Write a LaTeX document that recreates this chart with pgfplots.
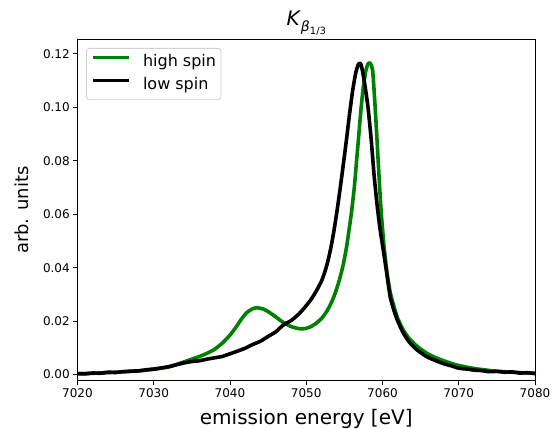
\documentclass[border=0pt]{standalone}
\usepackage{pgfplots}
\pgfplotsset{compat=1.18}
\usepackage{fontspec}
\setmainfont{DejaVu Sans}
\definecolor{mplgreen}{HTML}{008000}

\pgfplotstableread{
E v
7020 0.0003
7022 0.0005
7025 0.0009
7028 0.0014
7030 0.0020
7032 0.0029
7033.8 0.0046
7035 0.0058
7036 0.0068
7037 0.0080
7038 0.0095
7039 0.0118
7040 0.0148
7040.8 0.0178
7041.5 0.0208
7042.2 0.0232
7043 0.0247
7043.6 0.0250
7044.3 0.0246
7045 0.0236
7046 0.0216
7047 0.0195
7048 0.0180
7049 0.0172
7049.8 0.0172
7050.5 0.0178
7051.2 0.0190
7052 0.0210
7052.7 0.0237
7053.3 0.0270
7053.8 0.0305
7054.3 0.0350
7054.8 0.0405
7055.3 0.0480
7055.9 0.0600
7056.3 0.0700
7056.6 0.0800
7056.9 0.0900
7057.2 0.1000
7057.5 0.1080
7057.8 0.1135
7058.1 0.1163
7058.4 0.1165
7058.7 0.1140
7058.95 0.1040
7059.2 0.0920
7059.45 0.0790
7059.8 0.0620
7060.2 0.0480
7060.6 0.0380
7061 0.0310
7061.5 0.0255
7062 0.0210
7062.7 0.0168
7063.5 0.0135
7064.5 0.0107
7065.8 0.0080
7067 0.0063
7068.5 0.0047
7070 0.0034
7072 0.0023
7074.5 0.0014
7077 0.0009
7080 0.0005
}\highspin

\pgfplotstableread{
E v
7020 0.0004
7021 0.0003
7022 0.0006
7023 0.0005
7024 0.0009
7025 0.0008
7026 0.0011
7027 0.0013
7028 0.0014
7029 0.0018
7030 0.0021
7031 0.0025
7032 0.0030
7033 0.0037
7034 0.0044
7035 0.0049
7036 0.0052
7037 0.0058
7038 0.0063
7039 0.0068
7040 0.0078
7041 0.0088
7042 0.0099
7043 0.0113
7044 0.0125
7045 0.0143
7046 0.0160
7047 0.0186
7048 0.0202
7049 0.0226
7050 0.0258
7050.7 0.0284
7051.3 0.0312
7052 0.0350
7052.5 0.0390
7052.9 0.0432
7053.3 0.0485
7053.7 0.0550
7054.1 0.0625
7054.5 0.0708
7054.9 0.0795
7055.3 0.0885
7055.7 0.0980
7056.1 0.1065
7056.5 0.1130
7056.85 0.1162
7057.15 0.1163
7057.45 0.1125
7057.8 0.1062
7058.1 0.1000
7058.5 0.0885
7058.9 0.0745
7059.3 0.0632
7059.7 0.0540
7060.1 0.0466
7060.5 0.0390
7061 0.0292
7061.5 0.0240
7062 0.0200
7062.7 0.0157
7063.5 0.0122
7064.5 0.0093
7065.8 0.0067
7067 0.0052
7068 0.0041
7069 0.0033
7070 0.0024
7071 0.0021
7072 0.0017
7073 0.0015
7074 0.0011
7075 0.0012
7076 0.0009
7077 0.0010
7078 0.0006
7079 0.0007
7080 0.0004
}\lowspin

\begin{document}
\begin{tikzpicture}[x=1pt,y=1pt]
\useasboundingbox (-77.5,-47.5) rectangle (475.5,380.5);
\begin{axis}[
    at={(0,0)}, anchor=south west,
    width=457.5pt, height=340.5pt, scale only axis,
    xmin=7020, xmax=7080,
    ymin=-0.0022, ymax=0.1252,
    xtick={7020,7030,7040,7050,7060,7070,7080},
    ytick={0,0.02,0.04,0.06,0.08,0.1,0.12},
    yticklabel style={/pgf/number format/.cd, fixed, fixed zerofill, precision=2},
    xticklabel style={/pgf/number format/set thousands separator={}},
    /pgf/number format/assume math mode=true,
    ticklabel style={font=\fontsize{12}{12}\selectfont},
    tick pos=left,
    tick align=outside,
    major tick length=4.2pt,
    every tick/.style={black, line width=1pt},
    axis line style={line width=1pt},
    xlabel={emission energy [eV]},
    xlabel style={at={(rel axis cs:0.5,-0.1278)}, anchor=base, font=\fontsize{20}{20}\selectfont},
    ylabel={arb. units},
    ylabel style={at={(rel axis cs:-0.1213,0.5)}, rotate=0, anchor=center, font=\fontsize{18}{18}\selectfont},
    title={\textit{K}\raisebox{-0.28em}{\fontsize{14}{14}\selectfont\textit{β}\raisebox{-0.22em}{\fontsize{10}{10}\selectfont 1/3}}},
    title style={at={(rel axis cs:0.5,1.0235)}, anchor=base, font=\fontsize{20}{20}\selectfont},
    legend cell align=left,
    legend image code/.code={\draw[#1] (0pt,5pt) -- (36pt,5pt);},
    legend style={at={(rel axis cs:0.0186,0.9765)}, anchor=north west,
        draw=black!18, line width=0.8pt, rounded corners=3pt,
        fill=white, fill opacity=0.8, text opacity=1,
        inner xsep=5pt, inner ysep=6pt, row sep=7.3pt, column sep=12pt,
        font=\fontsize{16}{16}\selectfont,
        nodes={inner sep=0pt, text height=12pt, text depth=4pt}},
]
\addplot[color=mplgreen, line width=3.6pt, line join=round, smooth, tension=0.35] table[x=E, y=v] {\highspin};
\addplot[color=black, line width=3.6pt, line join=round, smooth, tension=0.35] table[x=E, y=v] {\lowspin};
\legend{high spin, low spin}
\end{axis}
\end{tikzpicture}
\end{document}
